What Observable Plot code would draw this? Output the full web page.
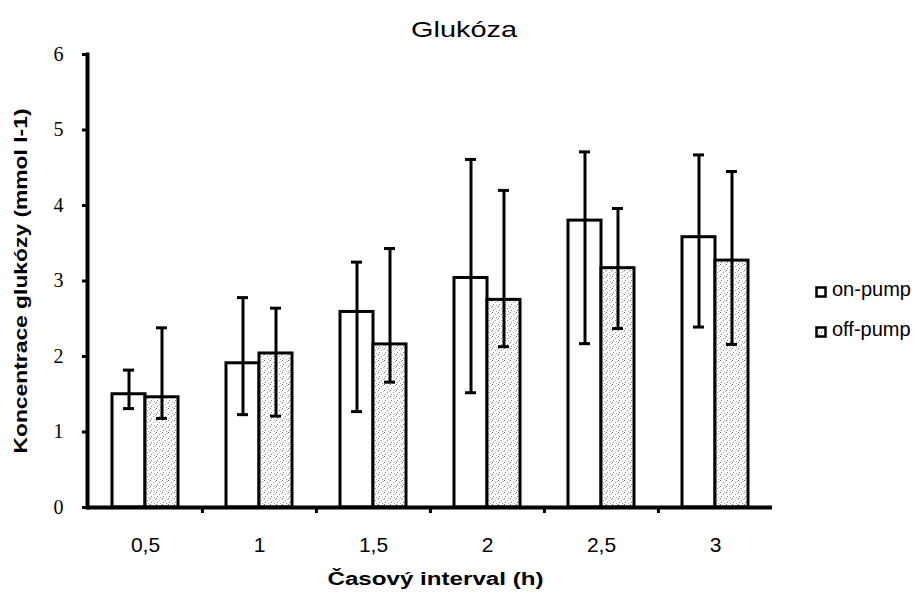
<!DOCTYPE html>
<html><head><meta charset="utf-8">
<script src="https://cdn.jsdelivr.net/npm/d3@7"></script>
<script src="https://cdn.jsdelivr.net/npm/@observablehq/plot@0.6"></script>
<style>
body{margin:0;background:#fff;}
#wrap{position:relative;width:919px;height:594px;background:#fff;}
.legtxt{position:absolute;font-family:"Liberation Sans",Arial,sans-serif;font-size:20px;line-height:20px;color:#000;white-space:nowrap;}
</style></head><body><div id="wrap"></div>
<script>
const title = "Glukóza";
const yLabel = "Koncentrace glukózy (mmol l-1)";
const xLabel = "Časový interval (h)";
const hours = ["0,5", "1", "1,5", "2", "2,5", "3"];
const seriesNames = ["on-pump", "off-pump"];
const onPump     = [1.50, 1.91, 2.59, 3.04, 3.80, 3.58];
const onPumpLow  = [1.31, 1.23, 1.27, 1.52, 2.17, 2.39];
const onPumpHigh = [1.82, 2.78, 3.25, 4.61, 4.71, 4.67];
const offPump     = [1.46, 2.04, 2.16, 2.75, 3.17, 3.27];
const offPumpLow  = [1.18, 1.21, 1.66, 2.13, 2.37, 2.16];
const offPumpHigh = [2.38, 2.64, 3.43, 4.20, 3.96, 4.45];
const yTicks = [0, 1, 2, 3, 4, 5, 6];

const rows = hours.map((h, i) => ({
  h, on: onPump[i], onLo: onPumpLow[i], onHi: onPumpHigh[i],
  off: offPump[i], offLo: offPumpLow[i], offHi: offPumpHigh[i]
}));

const W = 919, H = 594, ML = 87, MR = 147, MT = 54, MB = 87;
const PI = 0.422;
const step = (W - ML - MR) / hours.length;
const bw = step * (1 - PI);
const half = bw / 2;
const capHalf = 5.5;
const inA = half / 2 - capHalf;        // near inset
const inB = bw - (half / 2 + capHalf); // far inset

const chart = Plot.plot({
  width: W, height: H,
  marginLeft: ML, marginRight: MR, marginTop: MT, marginBottom: MB,
  style: {fontFamily: "Liberation Sans, Arial, sans-serif", color: "black", background: "white"},
  x: {domain: hours, paddingInner: PI, paddingOuter: PI / 2, label: null},
  y: {domain: [0, 6], label: null},
  marks: [
    Plot.barY(rows, {x: "h", y: "on", fill: "white", stroke: "black", strokeWidth: 3, insetRight: half}),
    Plot.barY(rows, {x: "h", y: "off", fill: "url(#stip)", stroke: "black", strokeWidth: 3, insetLeft: half}),
    Plot.ruleX(rows, {x: "h", y1: "onLo", y2: "onHi", dx: -half / 2, stroke: "black", strokeWidth: 3}),
    Plot.ruleX(rows, {x: "h", y1: "offLo", y2: "offHi", dx: half / 2, stroke: "black", strokeWidth: 3}),
    Plot.tickY(rows, {x: "h", y: "onHi", insetLeft: inA, insetRight: inB, stroke: "black", strokeWidth: 3}),
    Plot.tickY(rows, {x: "h", y: "onLo", insetLeft: inA, insetRight: inB, stroke: "black", strokeWidth: 3}),
    Plot.tickY(rows, {x: "h", y: "offHi", insetLeft: inB, insetRight: inA, stroke: "black", strokeWidth: 3}),
    Plot.tickY(rows, {x: "h", y: "offLo", insetLeft: inB, insetRight: inA, stroke: "black", strokeWidth: 3}),
    Plot.ruleX(hours.slice(1), {x: d => d, y1: 0, y2: 0, insetBottom: -6, dx: -step / 2, stroke: "black", strokeWidth: 3}),
    Plot.ruleY([0], {stroke: "black", strokeWidth: 4}),
    Plot.frame({anchor: "left", stroke: "black", strokeWidth: 4}),
    Plot.axisY({ticks: yTicks, tickSize: 5, tickPadding: 19, strokeWidth: 3, tickFormat: d3.format("d"),
      fontSize: 20, fontFamily: "Liberation Serif, Times New Roman, serif", label: null}),
    Plot.axisX({tickSize: 0, tickPadding: 30, fontSize: 21, label: null}),
    Plot.text([title], {frameAnchor: "top", dx: 34, dy: -33, fontSize: 22, fill: "black"}),
    Plot.text([xLabel], {frameAnchor: "bottom", dx: 5.5, dy: 77, fontSize: 18, fontWeight: "bold", fill: "black"}),
    Plot.text([yLabel], {frameAnchor: "left", textAnchor: "middle", rotate: -90, dx: -66, fontSize: 18, fontWeight: "bold", fill: "black"})
  ]
});

const patternDefs = `
<pattern id="stip" patternUnits="userSpaceOnUse" width="6" height="6">
  <rect width="6" height="6" fill="#fff"/>
  <rect x="0" y="0" width="1" height="1" fill="#777"/>
  <rect x="3" y="2" width="1" height="1" fill="#999"/>
  <rect x="1" y="4" width="1" height="1" fill="#888"/>
  <rect x="4" y="5" width="1" height="1" fill="#aaa"/>
  <rect x="5" y="1" width="1" height="1" fill="#bbb"/>
</pattern>`;
d3.select(chart).insert("defs", ":first-child").html(patternDefs);

const lengths = {[title]: 106, [xLabel]: 216, [yLabel]: 345};
chart.querySelectorAll("text").forEach(t => {
  const L = lengths[t.textContent];
  if (L) { t.setAttribute("textLength", L); t.setAttribute("lengthAdjust", "spacingAndGlyphs"); }
});

const wrap = document.getElementById("wrap");
wrap.appendChild(chart);
chart.style.position = "absolute"; chart.style.left = "0"; chart.style.top = "0";

// legend
const legTops = [279, 319];
seriesNames.forEach((name, i) => {
  const sw = document.createElementNS("http://www.w3.org/2000/svg", "svg");
  sw.setAttribute("width", 12); sw.setAttribute("height", 12);
  sw.style.position = "absolute"; sw.style.left = "815px"; sw.style.top = (legTops[i] + 7) + "px";
  sw.innerHTML = `<defs>${patternDefs.replace('id="stip"', 'id="stipL' + i + '"')}</defs>
    <rect x="1.5" y="1.5" width="9" height="9" fill="${i === 0 ? "#fff" : "url(#stipL" + i + ")"}" stroke="#000" stroke-width="2.5"/>`;
  wrap.appendChild(sw);
  const tx = document.createElement("div");
  tx.className = "legtxt";
  tx.style.left = "832px"; tx.style.top = legTops[i] + "px";
  tx.textContent = name;
  wrap.appendChild(tx);
});
</script></body></html>
